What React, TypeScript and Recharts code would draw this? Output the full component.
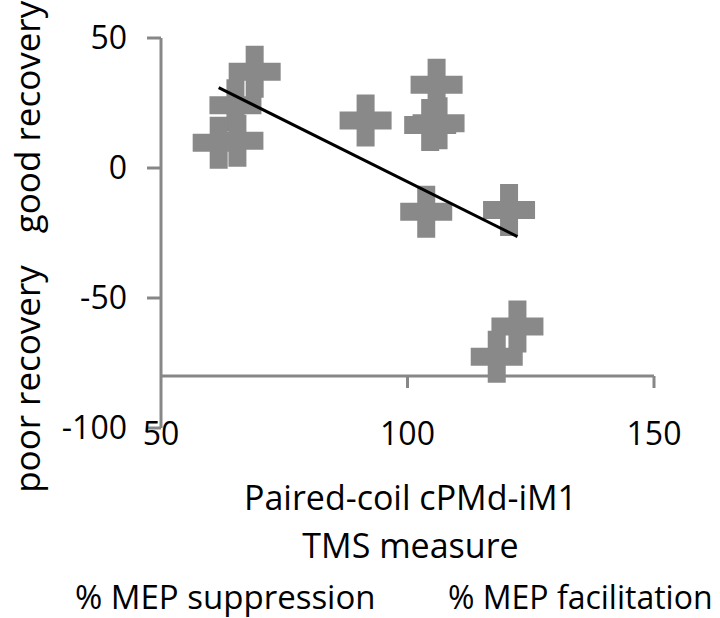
import { ReferenceLine, Scatter, ScatterChart, XAxis, YAxis } from "recharts";

const FONT = "'Open Sans', sans-serif";
const AXIS = "#878787";
const MARK = "#898989";

// TMS measure (x) vs recovery score (y)
const tmsMeasure = [69.0, 65.1, 61.7, 65.5, 91.5, 105.9, 104.6, 106.3, 103.8, 120.6, 122.3, 118.1];
const recovery = [37.0, 24.1, 9.7, 10.5, 18.3, 32.0, 16.5, 17.2, -16.8, -16.2, -61.0, -72.6];

// linear trend line end points
const trendX = [61.7, 122.3];
const trendY = [30.9, -26.4];

const xTicks = [50, 100, 150];
const yTicks = [-100, -50, 0, 50];
const X_CROSS = -80;

const points = tmsMeasure.map((x, i) => ({ x, y: recovery[i] }));
const trend = trendX.map((x, i) => ({ x, y: trendY[i] }));

const W = 720;
const H = 618;
const TOP = 38;
const PLOT_H = 390;
const Y_MIN = -100;
const Y_MAX = 50;
const crossOffset = ((X_CROSS - Y_MIN) / (Y_MAX - Y_MIN)) * PLOT_H;

/** Thick grey plus marker, like Excel's "+" marker. */
function Plus(props: any) {
  const { cx, cy } = props;
  if (cx == null || cy == null) return <g />;
  const a = 26;
  const w = 9;
  const d =
    `M${cx - w},${cy - a}h${2 * w}v${a - w}h${a - w}v${2 * w}h${-(a - w)}` +
    `v${a - w}h${-2 * w}v${-(a - w)}h${-(a - w)}v${-2 * w}h${a - w}z`;
  return <path d={d} fill={MARK} />;
}

function XTick(props: any) {
  const { x, y, payload } = props;
  return (
    <g>
      {payload.value !== 50 && (
        <line
          x1={x}
          x2={x}
          y1={y - crossOffset}
          y2={y - crossOffset + 12}
          stroke={AXIS}
          strokeWidth={3}
        />
      )}
      <text
        x={x}
        y={y + 4}
        textAnchor="middle"
        dominantBaseline="central"
        fontFamily={FONT}
        fontSize={32}
        fill="#000"
      >
        {payload.value}
      </text>
    </g>
  );
}

function XTitle(props: any) {
  const vb = props.viewBox || {};
  const cx = (vb.x ?? 161) + (vb.width ?? 493) / 2;
  const t = { fontFamily: FONT, fill: "#000", dominantBaseline: "central" as const };
  return (
    <g>
      <text x={cx + 3} y={497} textAnchor="middle" fontSize={34} {...t}>
        Paired-coil cPMd-iM1
      </text>
      <text x={cx + 3} y={545} textAnchor="middle" fontSize={34} {...t}>
        TMS measure
      </text>
      <text x={75} y={596} textAnchor="start" fontSize={33} {...t}>
        % MEP suppression
      </text>
      <text x={448} y={596} textAnchor="start" fontSize={32} {...t}>
        % MEP facilitation
      </text>
    </g>
  );
}

function YTitle() {
  const t = { fontFamily: FONT, fill: "#000", fontSize: 35, textAnchor: "middle" as const };
  return (
    <g>
      <text x={0} y={0} transform="translate(40,379) rotate(-90)" {...t}>
        poor recovery
      </text>
      <text x={0} y={0} transform="translate(40,117) rotate(-90)" {...t}>
        good recovery
      </text>
    </g>
  );
}

export default function App() {
  return (
    <div style={{ position: "absolute", left: 0, top: 0, width: W, height: H, background: "#fff" }}>
      <ScatterChart width={W} height={H} margin={{ top: TOP, right: 66, bottom: 0, left: 0 }}>
        <XAxis
          type="number"
          dataKey="x"
          domain={[50, 150]}
          ticks={xTicks}
          interval={0}
          axisLine={false}
          tickLine={false}
          tickSize={0}
          tickMargin={0}
          tick={<XTick />}
          height={H - TOP - PLOT_H}
          label={<XTitle />}
          allowDataOverflow
        />
        <YAxis
          type="number"
          dataKey="y"
          domain={[Y_MIN, Y_MAX]}
          ticks={yTicks}
          interval={0}
          width={161}
          axisLine={{ stroke: AXIS, strokeWidth: 3 }}
          tickLine={{ stroke: AXIS, strokeWidth: 3 }}
          tickSize={14}
          tickMargin={20}
          tick={{ fontFamily: FONT, fontSize: 32, fill: "#000" }}
          label={<YTitle />}
          allowDataOverflow
        />
        <ReferenceLine y={X_CROSS} stroke={AXIS} strokeWidth={3} />
        <Scatter data={points} shape={<Plus />} isAnimationActive={false} />
        <Scatter
          data={trend}
          line={{ stroke: "#000", strokeWidth: 3 }}
          shape={() => <g />}
          isAnimationActive={false}
        />
      </ScatterChart>
    </div>
  );
}
